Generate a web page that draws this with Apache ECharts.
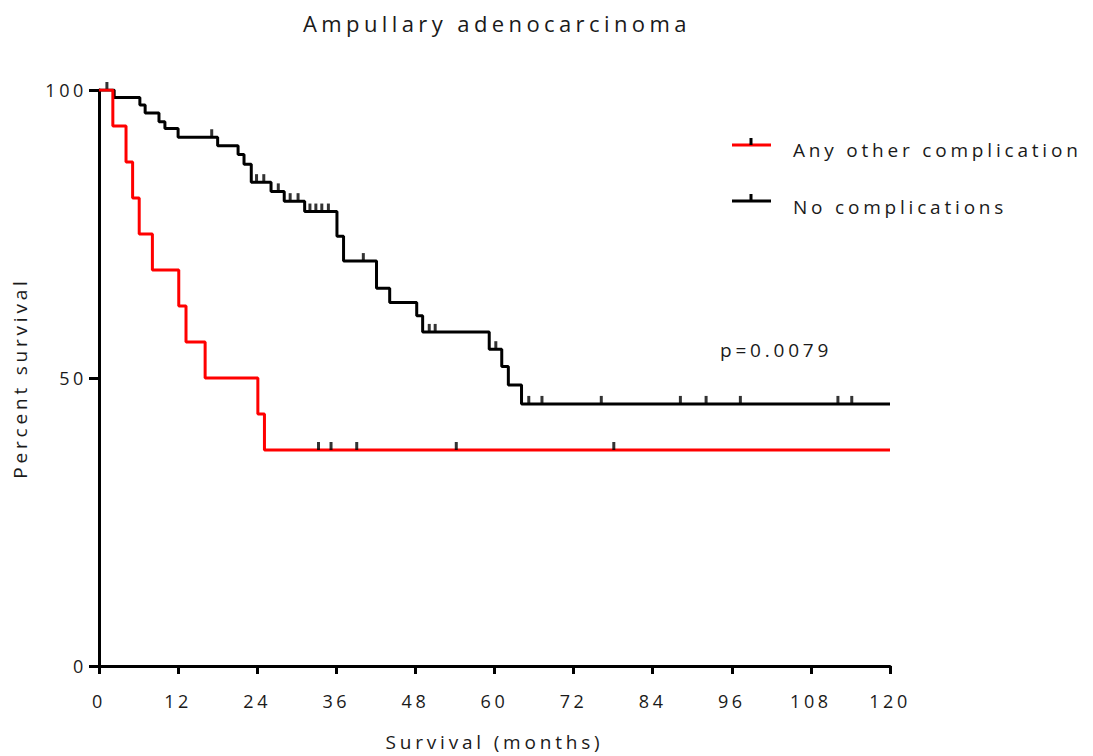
<!DOCTYPE html>
<html>
<head>
<meta charset="utf-8">
<script src="https://cdn.jsdelivr.net/npm/echarts@6/dist/echarts.min.js"></script>
<style>
  html, body { margin: 0; padding: 0; background: #fff; }
  #chart { width: 1093px; height: 756px; }
  #chart svg text { letter-spacing: 0.2em; }
</style>
</head>
<body>
<div id="chart"></div>
<script>
// ---- Data ----
const xTicks = [0, 12, 24, 36, 48, 60, 72, 84, 96, 108, 120];
const yTicks = [0, 50, 100];

// Kaplan-Meier steps: [time (months), percent survival after the event]
const noCompSteps = [
  [0, 100], [2.3, 98.7], [6.2, 97.4], [7.0, 96.0], [9.1, 94.5], [10.0, 93.3],
  [12.0, 91.8], [18.0, 90.3], [21.1, 88.8], [22.0, 87.1], [23.1, 84.0],
  [26.1, 82.4], [28.1, 80.7], [31.2, 78.9], [36.1, 74.6], [37.1, 70.3],
  [42.1, 65.6], [44.1, 63.1], [48.2, 60.8], [49.1, 58.0], [59.2, 55.0],
  [61.1, 52.0], [62.1, 48.8], [64.1, 45.5], [120, 45.5]
];
const noCompCensored = [
  [1.2, 100], [17.1, 91.8], [23.9, 84.0], [25.0, 84.0], [27.2, 82.4],
  [29.0, 80.7], [30.2, 80.7], [32.0, 78.9], [32.9, 78.9], [33.8, 78.9],
  [34.8, 78.9], [40.1, 70.3], [50.1, 58.0], [51.0, 58.0], [60.2, 55.0],
  [65.2, 45.5], [67.2, 45.5], [76.2, 45.5], [88.2, 45.5], [92.1, 45.5],
  [97.3, 45.5], [112.1, 45.5], [114.2, 45.5]
];
const otherCompSteps = [
  [0, 100], [2.1, 93.75], [4.1, 87.5], [5.1, 81.25], [6.1, 75.0],
  [8.1, 68.75], [12.1, 62.5], [13.2, 56.25], [16.1, 50.0], [24.1, 43.75],
  [25.1, 37.5], [120, 37.5]
];
const otherCompCensored = [
  [33.3, 37.5], [35.2, 37.5], [39.1, 37.5], [54.2, 37.5], [78.1, 37.5]
];
const seriesNames = ['Any other complication', 'No complications'];
const seriesColors = ['#ff0000', '#000000'];
const titleText = 'Ampullary adenocarcinoma';
const xName = 'Survival (months)';
const yName = 'Percent survival';
const pText = 'p=0.0079';

const FONT = '"Open Sans", "DejaVu Sans", sans-serif';
const TXT = '#1a1a1a';

const chart = echarts.init(document.getElementById('chart'), null, { renderer: 'svg' });

const option = {
  animation: false,
  backgroundColor: '#fff',
  title: {
    text: titleText,
    left: 298,
    top: 7,
    textStyle: { fontFamily: FONT, fontSize: 22, fontWeight: 'normal', color: TXT }
  },
  grid: { left: 99, right: 203, top: 90, bottom: 88, containLabel: false },
  xAxis: {
    type: 'value', min: 0, max: 120, interval: 12,
    name: xName, nameLocation: 'middle', nameGap: 66,
    nameTextStyle: { fontFamily: FONT, fontSize: 19, color: TXT },
    axisLine: { show: true, lineStyle: { color: '#000', width: 3 } },
    axisTick: { show: true, length: 8, lineStyle: { color: '#000', width: 3 } },
    axisLabel: { fontFamily: FONT, fontSize: 18, color: TXT, margin: 26 },
    splitLine: { show: false }
  },
  yAxis: {
    type: 'value', min: 0, max: 100, interval: 50,
    name: yName, nameLocation: 'middle', nameGap: 70, nameRotate: 90,
    nameTextStyle: { fontFamily: FONT, fontSize: 19, color: TXT },
    axisLine: { show: true, lineStyle: { color: '#000', width: 3 } },
    axisTick: { show: true, length: 10, lineStyle: { color: '#000', width: 3 } },
    axisLabel: { fontFamily: FONT, fontSize: 18, color: TXT, margin: 12 },
    splitLine: { show: false }
  },
  series: [
    {
      name: seriesNames[1], type: 'line', step: 'end', data: noCompSteps,
      showSymbol: false, symbol: 'none',
      lineStyle: { color: seriesColors[1], width: 3 }, z: 2
    },
    {
      name: seriesNames[1] + ' censored', type: 'scatter', data: noCompCensored,
      symbol: 'rect', symbolSize: [3, 8], symbolOffset: [0, -4],
      itemStyle: { color: seriesColors[1] }, z: 3
    },
    {
      name: seriesNames[0], type: 'line', step: 'end', data: otherCompSteps,
      showSymbol: false, symbol: 'none',
      lineStyle: { color: seriesColors[0], width: 3 }, z: 4
    },
    {
      name: seriesNames[0] + ' censored', type: 'scatter', data: otherCompCensored,
      symbol: 'rect', symbolSize: [3, 8], symbolOffset: [0, -4],
      itemStyle: { color: '#000' }, z: 5
    }
  ],
  graphic: [
    // legend entry 1
    { type: 'line', shape: { x1: 732, y1: 145, x2: 771, y2: 145 },
      style: { stroke: seriesColors[0], lineWidth: 3 } },
    { type: 'rect', shape: { x: 749.5, y: 138, width: 3, height: 7 }, style: { fill: '#000' } },
    { type: 'text', x: 793, y: 150,
      style: { text: seriesNames[0], fontFamily: FONT, fontSize: 19, fill: TXT,
        verticalAlign: 'middle' } },
    // legend entry 2
    { type: 'line', shape: { x1: 732, y1: 201, x2: 771, y2: 201 },
      style: { stroke: seriesColors[1], lineWidth: 3 } },
    { type: 'rect', shape: { x: 749.5, y: 194, width: 3, height: 7 }, style: { fill: '#000' } },
    { type: 'text', x: 793, y: 207,
      style: { text: seriesNames[1], fontFamily: FONT, fontSize: 19, fill: TXT,
        verticalAlign: 'middle' } },
    // p-value
    { type: 'text', x: 720, y: 350,
      style: { text: pText, fontFamily: FONT, fontSize: 19, fill: TXT,
        verticalAlign: 'middle' } }
  ]
};
chart.setOption(option);
</script>
</body>
</html>
